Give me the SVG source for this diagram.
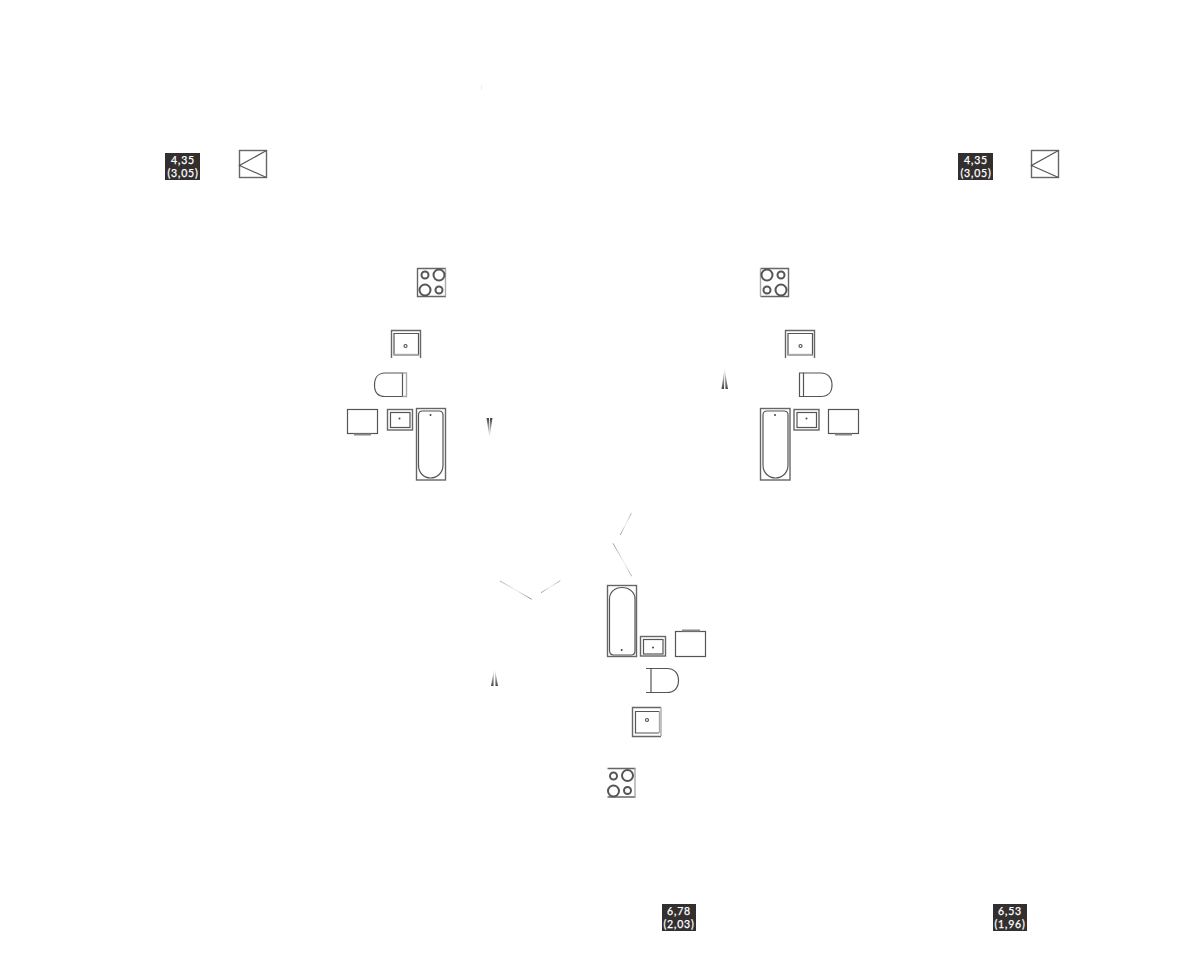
<svg xmlns="http://www.w3.org/2000/svg" width="1200" height="970" viewBox="0 0 1200 970">
<style>
.s{fill:none;stroke:#555;stroke-width:1.200}
.m{fill:none;stroke:#666;stroke-width:1.400}
.l{fill:none;stroke:#aaa;stroke-width:1.400}
.r{fill:none;stroke:#555;stroke-width:2}
.d{fill:#444}
.tag{fill:#332f2f}
.t{fill:#fff;stroke:#fff;stroke-width:.25px;font-family:"Lato","Liberation Sans",sans-serif;font-size:10.500px;text-anchor:middle;letter-spacing:.8px}
</style>
<defs>
<linearGradient id="up" x1="0" y1="1" x2="0" y2="0"><stop offset="0" stop-color="#444"/><stop offset="1" stop-color="#555" stop-opacity="0"/></linearGradient>
<linearGradient id="down" x1="0" y1="0" x2="0" y2="1"><stop offset="0" stop-color="#444"/><stop offset="1" stop-color="#555" stop-opacity="0"/></linearGradient>
<linearGradient id="f1" gradientUnits="userSpaceOnUse" x1="500" y1="581" x2="532" y2="599"><stop offset="0" stop-color="#aaa"/><stop offset=".5" stop-color="#eee"/><stop offset="1" stop-color="#888"/></linearGradient>
<linearGradient id="f2" gradientUnits="userSpaceOnUse" x1="541" y1="593" x2="560" y2="581"><stop offset="0" stop-color="#999"/><stop offset=".5" stop-color="#eee"/><stop offset="1" stop-color="#aaa"/></linearGradient>
<linearGradient id="f3" gradientUnits="userSpaceOnUse" x1="631" y1="513" x2="620" y2="535"><stop offset="0" stop-color="#aaa"/><stop offset=".5" stop-color="#eee"/><stop offset="1" stop-color="#999"/></linearGradient>
<linearGradient id="f4" gradientUnits="userSpaceOnUse" x1="613" y1="543" x2="632" y2="576"><stop offset="0" stop-color="#999"/><stop offset=".6" stop-color="#eee"/><stop offset="1" stop-color="#aaa"/></linearGradient>
<g id="flag"><rect class="m" x="0" y="0" width="27" height="27"/><path class="s" d="M27 0L0 15L27 27"/></g>
</defs>

<g id="tag-1"><rect class="tag" x="165" y="153" width="35" height="27"/><text class="t" x="183" y="163.500">4,35</text><text class="t" x="183" y="176.500">(3,05)</text></g>
<g id="tag-2"><rect class="tag" x="958" y="153" width="35" height="27"/><text class="t" x="976" y="163.500">4,35</text><text class="t" x="976" y="176.500">(3,05)</text></g>
<g id="tag-3"><rect class="tag" x="662" y="904" width="34" height="27"/><text class="t" x="679" y="914.500">6,78</text><text class="t" x="679" y="927.500">(2,03)</text></g>
<g id="tag-4"><rect class="tag" x="993" y="904" width="34" height="27"/><text class="t" x="1010" y="914.500">6,53</text><text class="t" x="1010" y="927.500">(1,96)</text></g>

<g id="flag-1"><use href="#flag" x="239.500" y="150.500"/></g>
<g id="flag-2"><use href="#flag" x="1031.500" y="150.500"/></g>

<g id="set-left">
<g id="hob-l"><path class="m" d="M446 268.500H417.500V296.500H446"/><path class="l" d="M445.500 268.500V296.500"/><circle class="r" cx="425" cy="275" r="3.500"/><circle class="r" cx="439" cy="275" r="5.500"/><circle class="r" cx="425" cy="290" r="5.500"/><circle class="r" cx="439" cy="290" r="3.500"/></g>
<g id="shower-l"><path class="m" d="M391.500 358V330.500H420.500V358"/><path class="s" d="M394 355V333.500H418.500V355Z"/><path class="l" d="M394 354.500H418.500" stroke-width="2"/><circle class="s" cx="405.500" cy="346" r="1.500"/></g>
<g id="wc-l"><path class="s" d="M402.500 373H385C378 373 374.500 378 374.500 385C374.500 392 378 396.500 385 396.500H402.500Z"/><path class="l" d="M402.500 373H406.500V396.500H402.500"/></g>
<g id="washer-l"><rect class="s" x="347.500" y="409.500" width="30" height="24"/><rect x="354" y="433.500" width="17" height="2" fill="#888"/></g>
<g id="basin-l"><rect class="m" x="387.500" y="409.500" width="25" height="20.500"/><rect class="s" x="390.500" y="412.500" width="19.500" height="15"/><circle class="d" cx="399.500" cy="418.500" r="1"/></g>
<g id="bath-l"><rect class="m" x="416.500" y="408.500" width="29" height="71.500"/><path class="s" d="M418.500 415C418.500 412.500 420 411 422.500 411H439C441.500 411 443 412.500 443 415V465C443 473 437 478 430.500 478C424 478 418.500 473 418.500 465Z"/><circle class="d" cx="430.500" cy="415" r="1"/></g>
<path id="arrow-l" d="M486.500 418H489L489.500 438ZM490 418H492.500L489.500 438Z" fill="url(#down)"/>
</g>

<g id="set-right">
<g id="hob-r"><path class="m" d="M760.500 268.500H788.500V296.500H760.500"/><path class="l" d="M760.500 268.500V296.500"/><circle class="r" cx="767" cy="275" r="5.500"/><circle class="r" cx="781" cy="275" r="3.500"/><circle class="r" cx="767" cy="290" r="3.500"/><circle class="r" cx="781" cy="290" r="5.500"/></g>
<g id="shower-r"><path class="m" d="M785.500 358V330.500H814.500V358"/><path class="s" d="M788 355V333.500H812.500V355Z"/><path class="l" d="M788 354.500H812.500" stroke-width="2"/><circle class="s" cx="800.500" cy="346" r="1.500"/></g>
<g id="wc-r"><path class="s" d="M803.500 373H821C828 373 832 378 832 385C832 392 828 396.500 821 396.500H803.500Z"/><path class="s" d="M803.500 373H799.500V396.500H803.500"/></g>
<g id="bath-r"><rect class="m" x="760.500" y="408.500" width="29.500" height="71.500"/><path class="s" d="M763 415C763 412.500 764.500 411 767 411H784C786.500 411 788 412.500 788 415V465C788 473 782 478 775.500 478C769 478 763 473 763 465Z"/><circle class="d" cx="775" cy="415" r="1"/></g>
<g id="basin-r"><rect class="m" x="794" y="409.500" width="25" height="20.500"/><rect class="s" x="797" y="412.500" width="19.500" height="15"/><circle class="d" cx="806.500" cy="418.500" r="1"/></g>
<g id="washer-r"><rect class="s" x="828.500" y="409.500" width="30" height="24"/><rect x="835" y="433.500" width="17" height="2" fill="#888"/></g>
<path id="arrow-r" d="M724.500 368L724 389H721.500ZM724.500 368L728 389H725.500Z" fill="url(#up)"/>
</g>

<g id="set-bottom">
<g id="bath-b"><rect class="m" x="607.500" y="585.500" width="29" height="71"/><path class="s" d="M609.500 650V599C609.500 592 615 587.500 622 587.500C629 587.500 635 592 635 599V651C635 653.500 633.500 655 631 655H613.500C611 655 609.500 653 609.500 650Z"/><circle class="d" cx="621.700" cy="650" r="1"/></g>
<g id="basin-b"><rect class="m" x="640.500" y="636.500" width="25" height="19.500"/><rect class="s" x="643.500" y="639.500" width="19.500" height="14.500"/><circle class="d" cx="653" cy="647.500" r="1"/></g>
<g id="washer-b"><rect class="s" x="675.500" y="631.500" width="30" height="25"/><rect x="682" y="629.500" width="18" height="2" fill="#888"/></g>
<g id="wc-b"><path class="s" d="M651 668.500H667C674 668.500 678.500 673 678.500 680.500C678.500 688 674 692.500 667 692.500H651Z"/><path class="s" d="M651 668.500H646M651 692.500H646"/></g>
<g id="shower-b"><path class="m" d="M661 707.500H632.500V736.500H661"/><path class="s" d="M659 711.500H635.500V733H659"/><path class="l" d="M659.500 711V733" stroke-width="2"/><path class="l" d="M661 707.500V736"/><circle class="s" cx="647" cy="720" r="1.500"/></g>
<g id="hob-b"><path class="m" d="M635.500 768.500H607.500M635.500 797H607.500"/><path class="l" d="M635 768.500V797"/><circle class="r" cx="613.500" cy="776" r="3.500"/><circle class="r" cx="627.500" cy="775.500" r="5.500"/><circle class="r" cx="613.500" cy="791" r="5.500"/><circle class="r" cx="627.500" cy="790.500" r="3.500"/></g>
<path id="arrow-b" d="M494 669L493.500 686H491ZM495 669L498 686H495.500Z" fill="url(#up)"/>
</g>

<g id="connectors">
<path fill="none" stroke="url(#f1)" d="M500 581L531.700 599.300"/>
<path fill="none" stroke="url(#f2)" d="M541 592.700L560.300 580.700"/>
<path fill="none" stroke="url(#f3)" d="M631.300 513.300L620.300 535"/>
<path fill="none" stroke="url(#f4)" d="M613 543.300L631.700 576.300"/>
<path fill="none" stroke="#eee" d="M481.500 85V90"/>
</g>
</svg>
